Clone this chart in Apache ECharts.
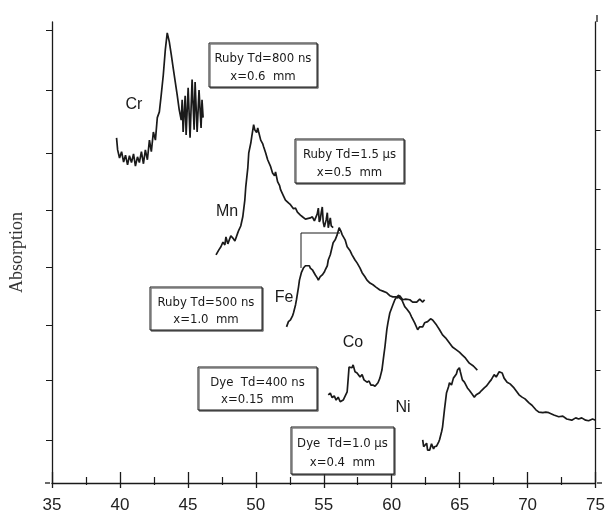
<!DOCTYPE html>
<html>
<head>
<meta charset="utf-8">
<script src="https://cdn.jsdelivr.net/npm/echarts@6/dist/echarts.min.js"></script>
<style>
html,body{margin:0;padding:0;background:#fff;}
#chart{width:608px;height:515px;}
</style>
</head>
<body>
<div id="chart"></div>
<script>
// ---- data (x: axis units 35-75, y: absorption, arbitrary units 0-8) ----
var xTicks = [35, 40, 45, 50, 55, 60, 65, 70, 75];
var leftTicks = [0.75, 1.79, 2.74, 3.75, 4.74, 5.73, 6.82, 7.86];
var rightTicks = [0.95, 1.96, 3.0, 4.05, 5.09, 6.13, 7.17];

var crX = [39.75,39.83,39.97,40.12,40.27,40.41,40.56,40.70,40.85,41.00,41.14,41.29,41.43,41.58,41.73,41.87,42.02,42.17,42.31,42.46,42.61,42.75,42.90,43.04,43.19,43.34,43.48,43.63,43.78,43.92,44.07,44.21,44.36,44.51,44.58,44.65,44.80,44.87,45.02,45.16,45.31,45.46,45.53,45.68,45.82,45.97,46.04,46.12];
var crY = [5.99,5.78,5.64,5.75,5.57,5.69,5.52,5.68,5.56,5.71,5.50,5.66,5.56,5.75,5.54,5.78,5.61,5.95,5.75,6.09,5.95,6.34,6.44,6.74,7.08,7.52,7.81,7.66,7.43,7.20,6.96,6.74,6.48,6.30,6.65,6.09,6.72,6.04,6.86,5.99,7.00,6.13,6.96,6.09,6.82,6.16,6.65,6.34];

var mnX = [47.07,47.29,47.43,47.58,47.72,47.80,47.94,48.02,48.16,48.31,48.46,48.53,48.67,48.75,48.89,49.04,49.19,49.26,49.41,49.48,49.63,49.70,49.84,49.92,50.06,50.14,50.21,50.36,50.50,50.58,50.72,50.87,51.09,51.23,51.38,51.45,51.60,51.75,51.82,52.04,52.18,52.40,52.55,52.77,52.92,53.06,53.28,53.43,53.65,53.79,54.01,54.16,54.31,54.38,54.52,54.60,54.67,54.74,54.82,54.89,54.96,55.04,55.18,55.26,55.33,55.40,55.48,55.55,55.69];
var mnY = [3.96,4.05,4.10,4.18,4.13,4.27,4.15,4.17,4.29,4.25,4.20,4.22,4.34,4.39,4.46,4.62,4.91,5.14,5.47,5.73,5.90,6.01,6.22,6.13,6.08,6.16,6.09,5.95,5.89,5.83,5.73,5.61,5.49,5.38,5.33,5.40,5.23,5.16,5.09,4.98,4.91,4.86,4.83,4.76,4.77,4.70,4.65,4.62,4.58,4.57,4.60,4.62,4.55,4.57,4.67,4.77,4.53,4.57,4.70,4.79,4.53,4.44,4.57,4.69,4.43,4.51,4.60,4.46,4.43];

var feX = [52.26,52.40,52.55,52.70,52.77,52.92,52.99,53.14,53.21,53.35,53.50,53.65,53.79,53.94,54.01,54.16,54.38,54.52,54.60,54.74,54.89,55.04,55.11,55.26,55.33,55.48,55.69,55.84,55.99,56.13,56.28,56.35,56.57,56.72,56.94,57.08,57.30,57.45,57.67,57.82,58.03,58.18,58.40,58.62,58.84,59.13,59.35,59.64,59.86,60.08,60.30,60.45,60.59,60.81,61.03,61.33,61.54,61.84,62.06,62.28,62.42];
var feY = [2.71,2.80,2.83,2.90,2.95,3.09,3.18,3.40,3.52,3.65,3.73,3.77,3.78,3.77,3.73,3.70,3.61,3.56,3.52,3.58,3.61,3.66,3.70,3.77,3.87,3.96,4.17,4.22,4.31,4.43,4.36,4.31,4.22,4.10,4.03,3.96,3.87,3.82,3.73,3.65,3.58,3.52,3.47,3.44,3.40,3.35,3.33,3.30,3.25,3.23,3.23,3.21,3.25,3.18,3.19,3.18,3.14,3.14,3.19,3.14,3.18];

var coX = [55.33,55.48,55.62,55.77,55.91,56.06,56.21,56.43,56.57,56.72,56.79,56.86,56.94,57.08,57.16,57.30,57.45,57.67,57.82,57.96,58.18,58.33,58.47,58.62,58.77,58.99,59.13,59.28,59.42,59.50,59.64,59.72,59.86,60.08,60.23,60.37,60.52,60.59,60.74,60.96,61.11,61.33,61.47,61.69,61.91,62.06,62.28,62.42,62.64,62.86,63.01,63.15,63.30,63.52,63.74,63.96,64.25,64.47,64.76,64.98,65.20,65.42,65.71,66.01,66.30];
var coY = [1.53,1.56,1.48,1.51,1.44,1.49,1.41,1.44,1.46,1.58,1.79,2.01,2.03,2.00,2.05,1.93,1.91,1.84,1.88,1.79,1.75,1.77,1.70,1.70,1.68,1.74,1.82,1.96,2.22,2.36,2.66,2.78,2.95,3.09,3.18,3.23,3.26,3.21,3.18,3.06,3.02,2.95,2.88,2.78,2.66,2.71,2.71,2.78,2.80,2.85,2.83,2.80,2.74,2.66,2.57,2.52,2.43,2.36,2.31,2.27,2.22,2.17,2.08,2.03,1.96];

var niX = [62.28,62.35,62.42,62.57,62.64,62.79,62.93,63.08,63.15,63.30,63.45,63.52,63.67,63.74,63.88,64.03,64.18,64.25,64.40,64.54,64.62,64.76,64.84,64.98,65.05,65.20,65.35,65.57,65.71,65.86,66.08,66.22,66.44,66.59,66.81,66.96,67.18,67.32,67.54,67.69,67.91,68.05,68.13,68.27,68.49,68.71,69.00,69.22,69.37,69.59,69.81,70.10,70.32,70.61,70.83,71.12,71.34,71.56,71.93,72.29,72.59,72.88,73.25,73.54,73.76,73.98,74.27,74.49,74.78,75.00];
var niY = [0.75,0.63,0.61,0.69,0.57,0.57,0.68,0.59,0.63,0.64,0.71,0.75,0.89,0.97,1.27,1.56,1.67,1.74,1.70,1.82,1.84,1.89,1.96,2.00,1.93,1.79,1.75,1.65,1.61,1.56,1.49,1.53,1.56,1.60,1.65,1.68,1.75,1.79,1.88,1.84,1.93,1.94,1.91,1.82,1.75,1.72,1.65,1.58,1.53,1.49,1.46,1.39,1.35,1.27,1.23,1.22,1.23,1.22,1.18,1.15,1.16,1.11,1.09,1.13,1.11,1.13,1.09,1.08,1.11,1.09];

var elementNames = ['Cr', 'Mn', 'Fe', 'Co', 'Ni'];
var boxLines = [
  ['Ruby Td=800 ns', 'x=0.6  mm'],
  ['Ruby Td=1.5 \u00b5s', 'x=0.5  mm'],
  ['Ruby Td=500 ns', 'x=1.0  mm'],
  ['Dye  Td=400 ns', 'x=0.15  mm'],
  ['Dye  Td=1.0 \u00b5s', 'x=0.4  mm']
];

function zip(xs, ys) {
  var n = Math.min(xs.length, ys.length), out = [];
  for (var i = 0; i < n; i++) out.push([xs[i], ys[i]]);
  return out;
}

var INK = '#1a1a1a';
var curves = [zip(crX, crY), zip(mnX, mnY), zip(feX, feY), zip(coX, coY), zip(niX, niY)];

var series = curves.map(function (d, i) {
  return {
    name: elementNames[i], type: 'line', data: d, showSymbol: false, symbol: 'none',
    xAxisIndex: 0, yAxisIndex: 0, smooth: false,
    lineStyle: { color: INK, width: 1.7 }, z: 3
  };
});

// annotation layout (pixel positions of labels and boxes)
var labelPos = [[134, 105], [227, 212], [284, 298], [353, 343], [403, 408]];
var boxRects = [
  [209, 43, 108, 44],
  [295, 139, 109, 44],
  [150, 287, 112, 43],
  [198, 367, 119, 43],
  [291, 427, 103, 47]
];

var graphics = [];
labelPos.forEach(function (p, i) {
  graphics.push({
    type: 'text', x: p[0], y: p[1], z: 10,
    style: { text: elementNames[i], fill: INK, font: '16px "Liberation Sans", Arial, sans-serif',
      textAlign: 'center', textVerticalAlign: 'middle' }
  });
});
boxRects.forEach(function (r, i) {
  graphics.push({
    type: 'rect', z: 9,
    shape: { x: r[0], y: r[1], width: r[2], height: r[3] },
    style: { fill: '#fff', stroke: INK, lineWidth: 1,
      shadowColor: 'rgba(60,60,60,0.7)', shadowOffsetX: 1.2, shadowOffsetY: 1.2, shadowBlur: 0 }
  });
  var cx = r[0] + r[2] / 2;
  var h = r[3];
  graphics.push({
    type: 'text', x: cx, y: r[1] + h * 0.36, z: 11,
    style: { text: boxLines[i][0], fill: INK, font: '13px "Liberation Sans Narrow", "DejaVu Sans Condensed", sans-serif',
      textAlign: 'center', textVerticalAlign: 'middle' }
  });
  graphics.push({
    type: 'text', x: cx, y: r[1] + h * 0.76, z: 11,
    style: { text: boxLines[i][1], fill: INK, font: '13px "Liberation Sans Narrow", "DejaVu Sans Condensed", sans-serif',
      textAlign: 'center', textVerticalAlign: 'middle' }
  });
});
// frame fragment near the Fe peak
graphics.push({
  type: 'polyline', z: 9,
  shape: { points: [[301, 268], [301, 233], [340, 233]] },
  style: { stroke: INK, lineWidth: 1, fill: null }
});
// right axis runs a little above the plot top, x axis a little beyond both sides
graphics.push({ type: 'line', z: 9, shape: { x1: 597, y1: 15, x2: 597, y2: 22 }, style: { stroke: INK, lineWidth: 1.3 } });
graphics.push({ type: 'line', z: 9, shape: { x1: 45, y1: 483, x2: 50, y2: 483 }, style: { stroke: INK, lineWidth: 1.3 } });
graphics.push({ type: 'line', z: 9, shape: { x1: 597, y1: 483, x2: 602, y2: 483 }, style: { stroke: INK, lineWidth: 1.3 } });

var chart = echarts.init(document.getElementById('chart'), null, { renderer: 'canvas' });
chart.setOption({
  animation: false,
  backgroundColor: '#fff',
  grid: { left: 50, right: 11, top: 22, bottom: 32, containLabel: false },
  xAxis: [{
    type: 'value', min: 35, max: 75, interval: 5, position: 'bottom',
    axisLine: { show: true, onZero: false, lineStyle: { color: INK, width: 1.3 } },
    axisTick: { show: true, inside: true, length: 11, lineStyle: { color: INK, width: 1.3 } },
    minorTick: { show: true, splitNumber: 2, length: 6, lineStyle: { color: INK, width: 1.2 } },
    axisLabel: { show: true, color: '#222', fontSize: 17, margin: 14,
      fontFamily: '"Liberation Sans", Arial, sans-serif',
      formatter: function (v) { return xTicks.indexOf(v) >= 0 ? String(v) : ''; } },
    splitLine: { show: false }, minorSplitLine: { show: false }
  }, {
    type: 'value', min: 35, max: 75, interval: 5, position: 'bottom',
    axisLine: { show: false, onZero: false },
    axisTick: { show: true, inside: false, length: 5, lineStyle: { color: INK, width: 1.3 } },
    minorTick: { show: true, splitNumber: 2, length: 2, lineStyle: { color: INK, width: 1.2 } },
    axisLabel: { show: false }, splitLine: { show: false }
  }],
  yAxis: [{
    type: 'value', min: 0, max: 8, position: 'left',
    name: 'Absorption', nameLocation: 'middle', nameGap: 26, nameRotate: 90,
    nameTextStyle: { color: '#333', fontSize: 18, fontFamily: '"Liberation Serif", "Times New Roman", serif' },
    axisLine: { show: true, onZero: false, lineStyle: { color: INK, width: 1.3 } },
    axisTick: { show: true, inside: false, length: 6, customValues: leftTicks, lineStyle: { color: INK, width: 1 } },
    axisLabel: { show: false }, splitLine: { show: false }
  }, {
    type: 'value', min: 0, max: 8, position: 'right',
    axisLine: { show: true, onZero: false, lineStyle: { color: INK, width: 1.3 } },
    axisTick: { show: true, inside: false, length: 5, customValues: rightTicks, lineStyle: { color: INK, width: 1 } },
    axisLabel: { show: false }, splitLine: { show: false }
  }],
  series: series,
  graphic: graphics
});
</script>
</body>
</html>
